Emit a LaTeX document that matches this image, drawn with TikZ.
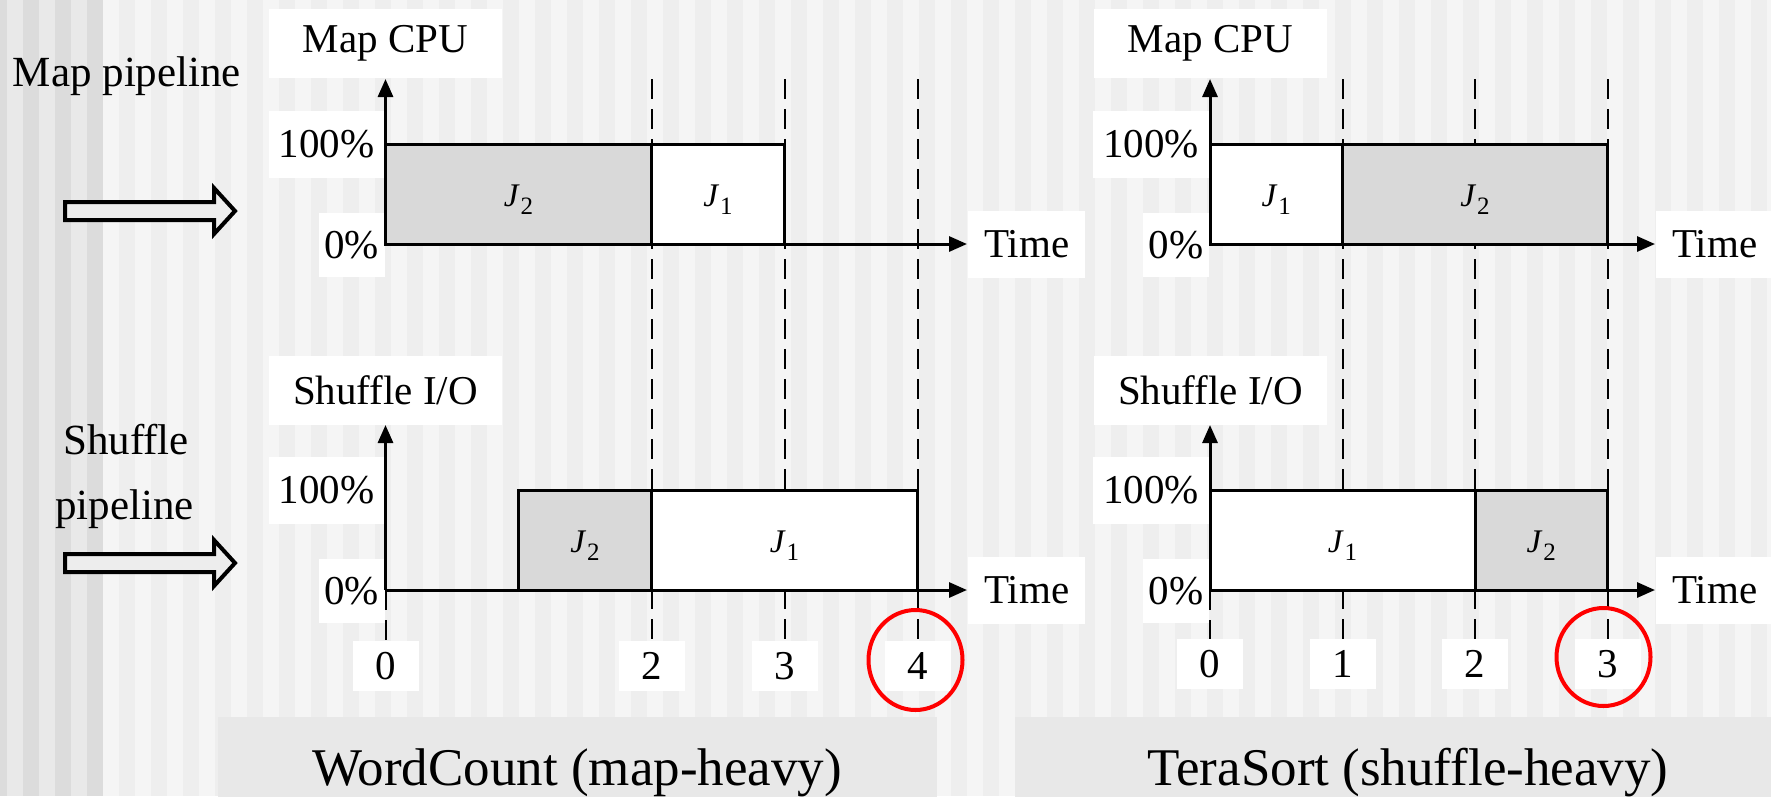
\documentclass[tikz,border=0pt]{standalone}
\usepackage{fontspec}
\setmainfont{Liberation Serif}
\usetikzlibrary{arrows.meta}
\definecolor{bgA}{HTML}{F5F5F5}
\definecolor{bgB}{HTML}{EEEEEE}
\definecolor{bgD}{HTML}{DCDCDC}
\definecolor{bgE}{HTML}{E9E9E9}
\definecolor{jobgray}{HTML}{D9D9D9}
\definecolor{capgray}{HTML}{E8E8E8}
\definecolor{arrowfill}{HTML}{EDEDED}
\newcommand{\myfs}[1]{\fontsize{#1}{#1}\selectfont}
\newcommand{\jlab}[1]{{\itshape J}\kern2pt\raisebox{-8pt}{\myfs{25}#1}}
\begin{document}
\begin{tikzpicture}[x=1pt,y=-1pt,
  lbl/.style={fill=white, inner sep=0pt, font=\myfs{41}},
  ticklbl/.style={fill=white, inner sep=0pt, font=\myfs{41}, minimum width=66, minimum height=50},
  axisline/.style={line width=3pt, -{Triangle[length=18pt,width=15pt]}},
  jobbox/.style={draw=black, line width=3pt, inner sep=0pt},
  jtext/.style={font=\myfs{33}, inner sep=0pt, anchor=base},
  guide/.style={line width=2pt, dash pattern=on 20pt off 10pt},
  marker/.style={draw=red, line width=4pt},
  biglabel/.style={font=\myfs{53}},
  pipe/.style={font=\myfs{43}},
  blockarrow/.style={draw=black, line width=4pt, fill=arrowfill, line join=miter}]
\useasboundingbox (0,0) rectangle (1771,796);
% background stripes
\fill[bgA] (0,0) rectangle (1771,796);
\foreach \x in {119,151,...,1771} \fill[bgB] (\x,0) rectangle ++(16,796);
\fill[bgE] (0,0) rectangle (103,796);
\foreach \x in {23,55,87} \fill[bgD] (\x,0) rectangle ++(16,796);
\fill[bgD] (0,0) rectangle (7,796);
% caption panels
\node[fill=capgray, inner sep=0pt, minimum width=719, minimum height=90, anchor=north west] (capL) at (218,717) {};
\node[fill=capgray, inner sep=0pt, minimum width=760, minimum height=90, anchor=north west] (capR) at (1015,717) {};
\node[biglabel, anchor=base] (capLt) at (577,785) {WordCount (map-heavy)};
\node[biglabel, anchor=base] (capRt) at (1408,785) {TeraSort (shuffle-heavy)};
% pipeline labels
\node[pipe, anchor=base] (mappipe) at (127,86) {Map pipeline};
\node[pipe, anchor=base] (shufpipeA) at (126,454) {Shuffle};
\node[pipe, anchor=base] (shufpipeB) at (124.5,519) {pipeline};
\draw[blockarrow] (65,202) -- (214,202) -- (214,188) -- (235,211) -- (214,234) -- (214,220) -- (65,220) -- cycle;
\draw[blockarrow] (65,554) -- (214,554) -- (214,540) -- (235,563) -- (214,586) -- (214,572) -- (65,572) -- cycle;
% ---------- guides ----------
\foreach \t in {2,3,4} \draw[guide] (385.5+133*\t,79) -- (385.5+133*\t,640);
\draw[guide] (385.5,590) -- (385.5,640);
\foreach \t in {1,2,3} \draw[guide] (1210+132.5*\t,79) -- (1210+132.5*\t,640);
\draw[guide] (1210,590) -- (1210,640);
% ---------- left top chart ----------
\coordinate (LTo) at (385.5,244);
\node[lbl, minimum width=233, minimum height=69] (LTcap) at (385.5,43.5) {Map CPU};
\node[lbl, minimum width=116, minimum height=67, anchor=east] (LT100) at (385,144.5) {100\%};
\node[lbl, minimum width=66, minimum height=64, anchor=east] (LT0) at (385,245) {0\%};
\node[lbl, minimum width=117, minimum height=67, anchor=west] (LTtime) at (968,244.5) {Time};
\node[jobbox, fill=jobgray, minimum width=266, minimum height=100] (LTj2) at (518.5,194) {};
\node[jobbox, fill=white, minimum width=133, minimum height=100] (LTj1) at (718,194) {};
\node[jtext] (LTj2t) at ([yshift=-12pt]LTj2.center) {\jlab{2}};
\node[jtext] (LTj1t) at ([yshift=-12pt]LTj1.center) {\jlab{1}};
\draw[axisline] (LTo) -- (385.5,79);
\draw[axisline] (LTo) -- (967,244);
% ---------- left bottom chart ----------
\coordinate (LBo) at (385.5,590);
\node[lbl, minimum width=233, minimum height=69] (LBcap) at (385.5,390.5) {Shuffle I/O};
\node[lbl, minimum width=116, minimum height=67, anchor=east] (LB100) at (385,490.5) {100\%};
\node[lbl, minimum width=66, minimum height=64, anchor=east] (LB0) at (385,591) {0\%};
\node[lbl, minimum width=117, minimum height=67, anchor=west] (LBtime) at (968,590.5) {Time};
\node[jobbox, fill=jobgray, minimum width=133, minimum height=100] (LBj2) at (585,540) {};
\node[jobbox, fill=white, minimum width=266, minimum height=100] (LBj1) at (784.5,540) {};
\node[jtext] (LBj2t) at ([yshift=-12pt]LBj2.center) {\jlab{2}};
\node[jtext] (LBj1t) at ([yshift=-12pt]LBj1.center) {\jlab{1}};
\draw[axisline] (LBo) -- (385.5,425);
\draw[axisline] (LBo) -- (967,590);
% ticks left
\node[ticklbl] (Lt0) at (385.5,666) {0};
\node[ticklbl] (Lt2) at (651.5,666) {2};
\node[ticklbl] (Lt3) at (784.5,666) {3};
\node[ticklbl] (Lt4) at (917.5,666) {4};
\draw[marker] (915.5,660) ellipse [x radius=47, y radius=50];
% ---------- right top chart ----------
\coordinate (RTo) at (1210,244);
\node[lbl, minimum width=233, minimum height=69] (RTcap) at (1210.5,43.5) {Map CPU};
\node[lbl, minimum width=116, minimum height=67, anchor=east] (RT100) at (1209.5,144.5) {100\%};
\node[lbl, minimum width=66, minimum height=64, anchor=east] (RT0) at (1209.5,245) {0\%};
\node[lbl, minimum width=117, minimum height=67, anchor=west] (RTtime) at (1656,244.5) {Time};
\node[jobbox, fill=white, minimum width=132.5, minimum height=100] (RTj1) at (1276.25,194) {};
\node[jobbox, fill=jobgray, minimum width=265, minimum height=100] (RTj2) at (1475,194) {};
\node[jtext] (RTj1t) at ([yshift=-12pt]RTj1.center) {\jlab{1}};
\node[jtext] (RTj2t) at ([yshift=-12pt]RTj2.center) {\jlab{2}};
\draw[axisline] (RTo) -- (1210,79);
\draw[axisline] (RTo) -- (1655,244);
% ---------- right bottom chart ----------
\coordinate (RBo) at (1210,590);
\node[lbl, minimum width=233, minimum height=69] (RBcap) at (1210.5,390.5) {Shuffle I/O};
\node[lbl, minimum width=116, minimum height=67, anchor=east] (RB100) at (1209.5,490.5) {100\%};
\node[lbl, minimum width=66, minimum height=64, anchor=east] (RB0) at (1209.5,591) {0\%};
\node[lbl, minimum width=117, minimum height=67, anchor=west] (RBtime) at (1656,590.5) {Time};
\node[jobbox, fill=white, minimum width=265, minimum height=100] (RBj1) at (1342.5,540) {};
\node[jobbox, fill=jobgray, minimum width=132.5, minimum height=100] (RBj2) at (1541.25,540) {};
\node[jtext] (RBj1t) at ([yshift=-12pt]RBj1.center) {\jlab{1}};
\node[jtext] (RBj2t) at ([yshift=-12pt]RBj2.center) {\jlab{2}};
\draw[axisline] (RBo) -- (1210,425);
\draw[axisline] (RBo) -- (1655,590);
% ticks right
\node[ticklbl] (Rt0) at (1210,664) {0};
\node[ticklbl] (Rt1) at (1342.5,664) {1};
\node[ticklbl] (Rt2) at (1475,664) {2};
\node[ticklbl] (Rt3) at (1607.5,664) {3};
\draw[marker] (1603.5,657) ellipse [x radius=47, y radius=49];
\end{tikzpicture}
\end{document}
